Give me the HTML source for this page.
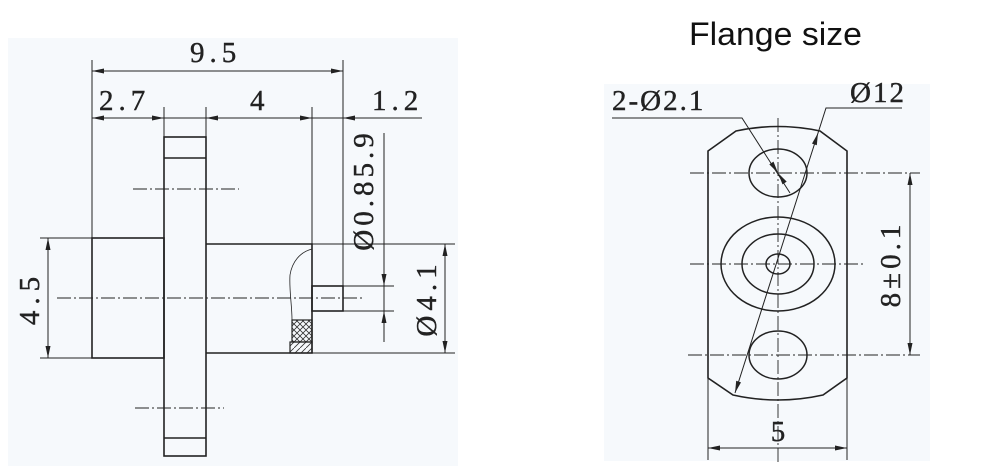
<!DOCTYPE html>
<html><head><meta charset="utf-8"><style>
html,body{margin:0;padding:0;background:#fff;}
svg{display:block;}
text{font-family:"Liberation Serif",serif;fill:#222;}
</style></head><body>
<svg width="1000" height="468" viewBox="0 0 1000 468" xmlns="http://www.w3.org/2000/svg">
<defs>
<pattern id="x" width="6" height="6" patternUnits="userSpaceOnUse"><path d="M0,0 L6,6 M6,0 L0,6" stroke="#333" stroke-width="0.8"/></pattern>
<pattern id="h" width="6" height="6" patternUnits="userSpaceOnUse"><path d="M0,6 L6,0" stroke="#333" stroke-width="0.8"/></pattern>
</defs>
<rect x="8" y="38" width="450" height="428" fill="#f6f9fc"/>
<rect x="604" y="84" width="326" height="377" fill="#f6f9fc"/>
<g stroke="#222" fill="none" stroke-width="1">
<line x1="92" y1="60" x2="92" y2="238"/>
<line x1="343" y1="60" x2="343" y2="286"/>
<line x1="92" y1="71" x2="343" y2="71"/>
<line x1="92" y1="118" x2="422" y2="118"/>
<line x1="164" y1="107" x2="164" y2="137"/>
<line x1="206" y1="107" x2="206" y2="137"/>
<line x1="312" y1="107" x2="312" y2="244"/>
<g stroke-width="1.6">
<rect x="164" y="137" width="42" height="319"/>
<line x1="164" y1="158" x2="206" y2="158"/>
<line x1="164" y1="438" x2="206" y2="438"/>
<rect x="92" y="238" width="72" height="120"/>
<path d="M206,244 H312 V353 H206"/>
<rect x="312" y="286" width="31" height="25"/>
</g>
<path d="M312,249 C300,252 292,262 290,275 C289,290 292,305 292,320" stroke-width="0.8"/>
<rect x="292" y="320" width="20" height="22" fill="url(#x)" stroke-width="1.2"/>
<rect x="290" y="342" width="22" height="11" fill="url(#h)" stroke-width="1.2"/>
<g stroke-dasharray="14,3,2,3" stroke-width="0.9">
<line x1="57" y1="298" x2="362" y2="298"/>
<line x1="133" y1="189" x2="239" y2="189"/>
<line x1="135" y1="408" x2="224" y2="408"/>
</g>
<line x1="40" y1="238" x2="92" y2="238"/>
<line x1="40" y1="358" x2="92" y2="358"/>
<line x1="48" y1="238" x2="48" y2="358"/>
<line x1="312" y1="244" x2="455" y2="244"/>
<line x1="312" y1="353" x2="455" y2="353"/>
<line x1="445" y1="244" x2="445" y2="353"/>
<line x1="343" y1="286" x2="394" y2="286"/>
<line x1="343" y1="311" x2="394" y2="311"/>
<line x1="384" y1="133" x2="384" y2="342"/>
<path d="M708,151 L736,131 Q778,122 820,131 L847,151 V378 L823,395 Q778,405 733,395 L708,378 Z" stroke-width="1.6"/>
<g stroke-width="1.5">
<ellipse cx="778" cy="173" rx="29" ry="24"/>
<ellipse cx="778" cy="355" rx="29" ry="24"/>
<ellipse cx="778" cy="264" rx="57" ry="47"/>
<ellipse cx="778" cy="264" rx="36" ry="30"/>
<ellipse cx="778" cy="264" rx="12" ry="10"/>
</g>
<g stroke-dasharray="14,3,2,3" stroke-width="0.9">
<line x1="778" y1="118" x2="778" y2="462"/>
<line x1="690" y1="173" x2="920" y2="173"/>
<line x1="690" y1="264" x2="866" y2="264"/>
<line x1="688" y1="355" x2="920" y2="355"/>
</g>
<line x1="910" y1="173" x2="910" y2="355"/>
<line x1="708" y1="378" x2="708" y2="460"/>
<line x1="847" y1="378" x2="847" y2="460"/>
<line x1="708" y1="448" x2="847" y2="448"/>
<path d="M902,108 H826 L735,393"/>
<path d="M612,118 H742 L790,193"/>
</g>
<g fill="#222">
<polygon points="92,71 104,68.5 104,73.5"/><polygon points="343,71 331,68.5 331,73.5"/>
<polygon points="92,118 104,115.5 104,120.5"/><polygon points="164,118 152,115.5 152,120.5"/>
<polygon points="206,118 218,115.5 218,120.5"/><polygon points="312,118 300,115.5 300,120.5"/>
<polygon points="343,118 355,115.5 355,120.5"/>
<polygon points="48,238 45.5,250 50.5,250"/><polygon points="48,358 45.5,346 50.5,346"/>
<polygon points="445,244 442.5,256 447.5,256"/><polygon points="445,353 442.5,341 447.5,341"/>
<polygon points="384,286 381.5,274 386.5,274"/><polygon points="384,311 381.5,323 386.5,323"/>
<polygon points="910,173 907.5,185 912.5,185"/><polygon points="910,355 907.5,343 912.5,343"/>
<polygon points="708,448 720,445.5 720,450.5"/><polygon points="847,448 835,445.5 835,450.5"/>
<polygon points="818,133 816.8,145.2 812,143.6"/><polygon points="735,393 736.2,380.8 741,382.4"/>
<polygon points="778,173 773.5,161.6 769.3,164.4"/><polygon points="778,173 786.7,181.6 782.5,184.4"/>
</g>
<g font-size="29" stroke="#222" stroke-width="0.4">
<text x="190" y="62" letter-spacing="5">9.5</text>
<text x="99" y="110" letter-spacing="5">2.7</text>
<text x="250" y="110">4</text>
<text x="372" y="110" letter-spacing="5">1.2</text>
<text transform="translate(39,298) rotate(-90)" text-anchor="middle" letter-spacing="6">4.5</text>
<text transform="translate(373,190) rotate(-90)" text-anchor="middle" letter-spacing="4">Ø0.85.9</text>
<text transform="translate(436,298) rotate(-90)" text-anchor="middle" letter-spacing="5">Ø4.1</text>
<text x="612" y="110" letter-spacing="2">2-Ø2.1</text>
<text x="850" y="102" letter-spacing="2">Ø12</text>
<text transform="translate(900,264) rotate(-90)" text-anchor="middle" letter-spacing="4">8±0.1</text>
<text x="778" y="441" text-anchor="middle">5</text>
</g>
<text x="689" y="45" font-size="32" textLength="173" lengthAdjust="spacingAndGlyphs" style="font-family:'Liberation Sans',sans-serif;fill:#111">Flange size</text>
</svg>
</body></html>
